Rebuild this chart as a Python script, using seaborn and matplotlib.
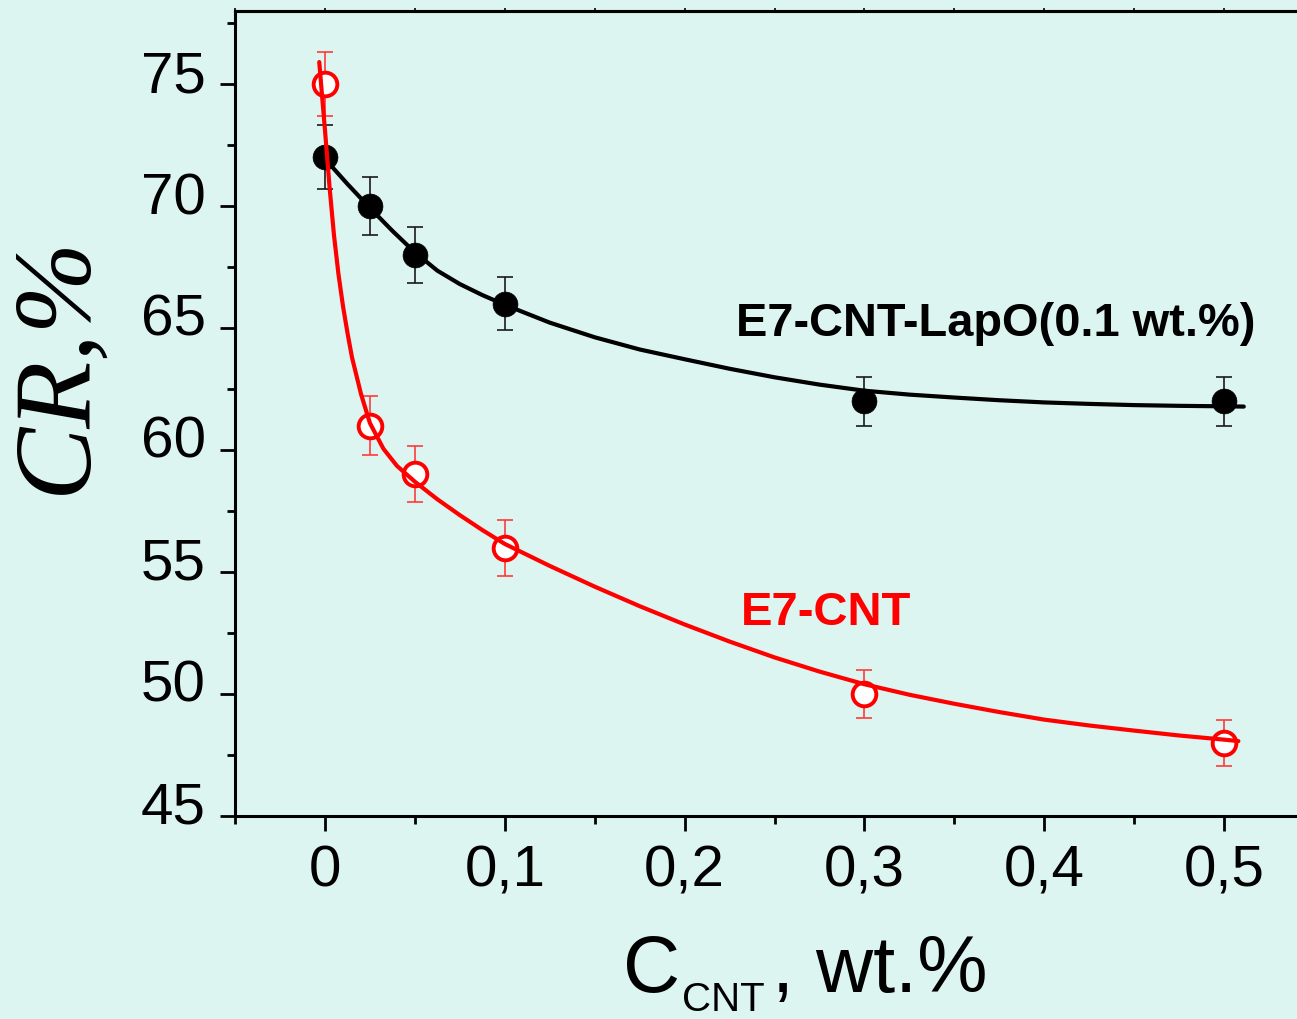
import matplotlib
matplotlib.use("Agg")
import matplotlib.pyplot as plt
import matplotlib.transforms as mtransforms
from matplotlib.ticker import MultipleLocator
import seaborn as sns
import pandas as pd

# ---------------- data ----------------
conc = [0.0, 0.025, 0.05, 0.1, 0.3, 0.5]
cr_lapo = [72, 70, 68, 66, 62, 62]
err_lapo = [1.3, 1.2, 1.15, 1.1, 1.0, 1.0]
cr_cnt = [75, 61, 59, 56, 50, 48]
err_cnt = [1.3, 1.2, 1.15, 1.15, 1.0, 0.95]

# fitted curves
fit_lapo_x = [0.0, 0.0125, 0.025, 0.0375, 0.05, 0.0625, 0.075, 0.0875, 0.1, 0.125,
              0.15, 0.175, 0.2, 0.225, 0.25, 0.275, 0.3, 0.325, 0.35, 0.375, 0.4,
              0.425, 0.45, 0.475, 0.5, 0.511]
fit_lapo_y = [71.93, 70.90, 69.92, 68.98, 68.1, 67.35, 66.8, 66.35, 65.95, 65.22,
              64.62, 64.12, 63.72, 63.33, 62.98, 62.68, 62.43, 62.27, 62.15, 62.04, 61.95,
              61.89, 61.84, 61.81, 61.79, 61.78]
fit_cnt_x = [-0.0032, -0.0015, 0.0, 0.0025, 0.005, 0.0075, 0.01, 0.0125, 0.015, 0.02,
             0.025, 0.0325, 0.04, 0.05, 0.0625, 0.075, 0.0875, 0.1, 0.125, 0.15, 0.175,
             0.2, 0.225, 0.25, 0.275, 0.3, 0.325, 0.35, 0.375, 0.4, 0.425, 0.45,
             0.475, 0.5, 0.508]
fit_cnt_y = [75.9, 74.4, 73.1, 70.8, 68.8, 67.2, 65.9, 64.8, 63.8, 62.3,
             61.1, 60.05, 59.35, 58.7, 57.98, 57.33, 56.72, 56.15, 55.25, 54.4, 53.6,
             52.85, 52.15, 51.5, 50.92, 50.4, 49.97, 49.6, 49.26, 48.95, 48.71, 48.5,
             48.3, 48.13, 48.07]

x_ticks = [0, 0.1, 0.2, 0.3, 0.4, 0.5]
x_tick_labels = ["0", "0,1", "0,2", "0,3", "0,4", "0,5"]
y_ticks = [45, 50, 55, 60, 65, 70, 75]

label_lapo = "E7-CNT-LapO(0.1 wt.%)"
label_cnt = "E7-CNT"

# ---------------- style ----------------
sns.set_theme(style="ticks")
BG = "#ddf5f0"
plt.rcParams["font.family"] = ["Liberation Sans", "DejaVu Sans"]

W, H = 1297, 1020
fig = plt.figure(figsize=(W / 100, H / 100), dpi=100, facecolor=BG)

x0, x1 = -0.05, 0.55
y0, y1 = 45, 78
px_per_x = 1798.0
left_px = 325 - 0.05 * px_per_x
right_px = 325 + 0.55 * px_per_x
bottom_px, top_px = 817, 817 - 33 * 24.4
ax = fig.add_axes([left_px / W, 1 - bottom_px / H,
                   (right_px - left_px) / W, (bottom_px - top_px) / H])
ax.set_facecolor(BG)

df_lapo = pd.DataFrame({"x": conc, "y": cr_lapo})
df_cnt = pd.DataFrame({"x": conc, "y": cr_cnt})
df_fit_lapo = pd.DataFrame({"x": fit_lapo_x, "y": fit_lapo_y})
df_fit_cnt = pd.DataFrame({"x": fit_cnt_x, "y": fit_cnt_y})

# error bars
ax.errorbar(conc, cr_lapo, yerr=err_lapo, fmt="none", ecolor="#1a1a1a",
            elinewidth=1.2, capsize=6, capthick=1.2, zorder=2)
ax.errorbar(conc, cr_cnt, yerr=err_cnt, fmt="none", ecolor="#ff3b3b",
            elinewidth=1.2, capsize=6, capthick=1.2, zorder=2)

# markers
sns.scatterplot(data=df_lapo, x="x", y="y", ax=ax, s=320, color="black",
                edgecolor="black", linewidth=0.5, zorder=3, legend=False)
sns.scatterplot(data=df_cnt, x="x", y="y", ax=ax, s=290, facecolor="white",
                edgecolor="#ff0000", linewidth=2.8, zorder=3, legend=False)

# fitted curves
sns.lineplot(data=df_fit_lapo, x="x", y="y", ax=ax, color="black", linewidth=3,
             sort=False, estimator=None, zorder=4)
sns.lineplot(data=df_fit_cnt, x="x", y="y", ax=ax, color="#ff0000", linewidth=3,
             sort=False, estimator=None, zorder=4)

ax.set_xlim(x0, x1)
ax.set_ylim(y0, y1)
ax.set_xlabel("")
ax.set_ylabel("")

for s in ["left", "bottom", "top"]:
    ax.spines[s].set_linewidth(2.2)
    ax.spines[s].set_color("black")
ax.spines["right"].set_visible(False)

ax.set_xticks(x_ticks)
ax.set_xticklabels(x_tick_labels)
ax.xaxis.set_minor_locator(MultipleLocator(0.05))
ax.set_yticks(y_ticks)
ax.yaxis.set_minor_locator(MultipleLocator(2.5))

ax.tick_params(axis="both", which="major", direction="out", length=11, width=2,
               color="black", labelsize=42, labelcolor="black")
ax.tick_params(axis="both", which="minor", direction="out", length=6, width=2,
               color="black")
ax.tick_params(axis="x", which="major", pad=9)
ax.tick_params(axis="y", which="major", pad=10)
ax.tick_params(top=False, right=False, which="both")

# small ticks on top spine
sec = ax.secondary_xaxis("top")
sec.set_xticks([i * 0.05 for i in range(-1, 12)])
sec.set_xticklabels([])
sec.tick_params(direction="out", length=2, width=1.2, color="black")
sec.spines["top"].set_linewidth(2.2)

# shift y tick labels upward
offset = mtransforms.ScaledTranslation(0, 14 / 100, fig.dpi_scale_trans)
for lab in ax.get_yticklabels():
    lab.set_transform(lab.get_transform() + offset)

# axis labels
fig.text(58 / W, 1 - 364 / H, "CR,%", rotation=90, ha="center", va="center",
         fontsize=79, family="Liberation Serif", style="italic", color="black")
fig.text(623 / W, 1 - 992 / H, "C", ha="left", va="baseline", fontsize=57,
         color="black")
fig.text(682 / W, 1 - 1011 / H, "CNT", ha="left", va="baseline", fontsize=29,
         color="black")
fig.text(772 / W, 1 - 992 / H, ", wt.%", ha="left", va="baseline", fontsize=57,
         color="black")

# annotations
fig.text(736 / W, 1 - 336 / H, label_lapo, ha="left", va="baseline", fontsize=33.8,
         fontweight="bold", color="black")
fig.text(741 / W, 1 - 625 / H, label_cnt, ha="left", va="baseline", fontsize=34,
         fontweight="bold", color="#ff0000")

fig.savefig("out.png", dpi=100, facecolor=BG)
